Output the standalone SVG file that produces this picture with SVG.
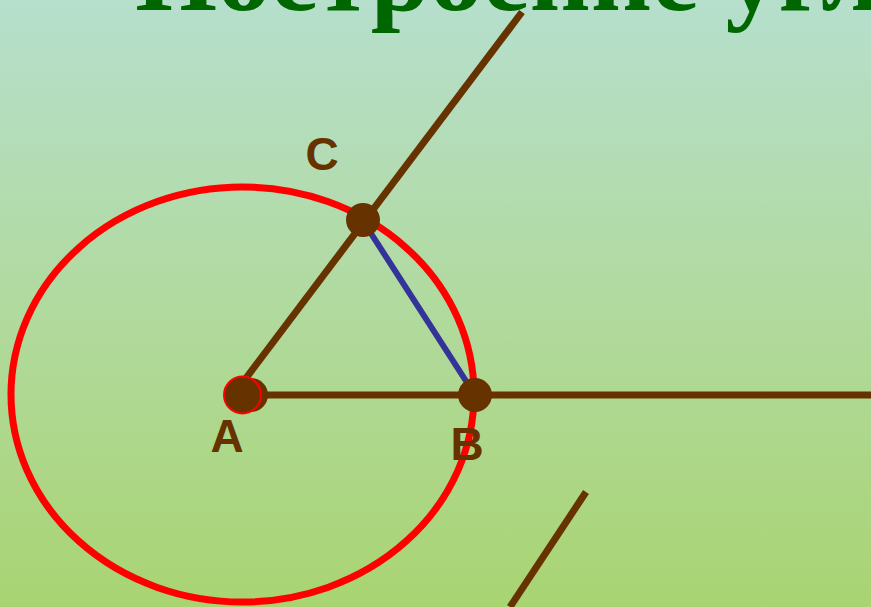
<svg xmlns="http://www.w3.org/2000/svg" width="871" height="607" viewBox="0 0 871 607">
  <defs>
    <linearGradient id="bg" x1="0" y1="0" x2="0" y2="1">
      <stop offset="0" stop-color="#b6dfcd"/>
      <stop offset="0.5" stop-color="#b1da9f"/>
      <stop offset="1" stop-color="#a9d472"/>
    </linearGradient>
  </defs>
  <style>
    .title { font-family: "Liberation Serif", "Times New Roman", serif; font-weight: bold; font-size: 106px; fill: #006600; }
    .label { font-family: "Liberation Sans", Arial, sans-serif; font-weight: bold; font-size: 46px; fill: #663300; }
    .ray { stroke: #663300; stroke-width: 7; fill: none; }
    .pt { fill: #663300; }
  </style>
  <rect width="871" height="607" fill="url(#bg)"/>
  <text class="title" x="135" y="10">Построение угла</text>
  <g id="circle-arc">
    <ellipse cx="242.5" cy="394.5" rx="231.5" ry="207.5" fill="none" stroke="#ff0000" stroke-width="7"/>
  </g>
  <g id="connectors">
    <line class="ray" x1="250" y1="395" x2="871" y2="395"/>
    <line class="ray" x1="234" y1="394" x2="522" y2="12"/>
    <line x1="363" y1="221" x2="475" y2="395" stroke="#333399" stroke-width="6"/>
    <line class="ray" x1="586" y1="492" x2="510" y2="607"/>
  </g>
  <g id="point-A">
    <circle class="pt" cx="251" cy="395" r="17"/>
    <circle class="pt" cx="242.5" cy="395" r="18.5" stroke="#ff0000" stroke-width="2"/>
    <text class="label" x="227" y="452" text-anchor="middle">A</text>
  </g>
  <g id="point-B">
    <circle class="pt" cx="475" cy="395" r="17"/>
    <text class="label" x="467" y="460" text-anchor="middle">B</text>
  </g>
  <g id="point-C">
    <circle class="pt" cx="363" cy="220" r="17"/>
    <text class="label" x="322" y="170" text-anchor="middle">C</text>
  </g>
</svg>
